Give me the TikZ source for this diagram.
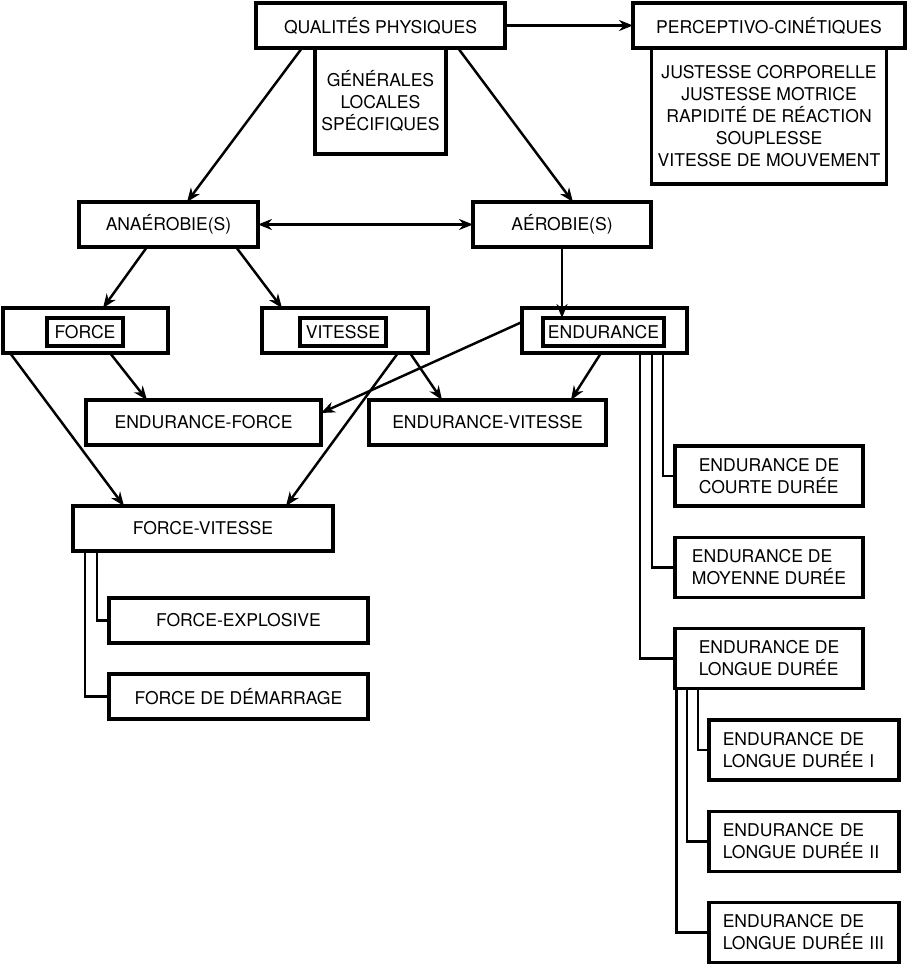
\documentclass[tikz,border=0pt]{standalone}
\usepackage{fontspec}
\setmainfont{TeX Gyre Heros}
\usetikzlibrary{arrows.meta,positioning,calc}

\begin{document}
\begin{tikzpicture}[
    x=0.02cm, y=-0.02cm,
    bx/.style={rectangle, draw=black, line width=2pt, outer sep=0pt, align=center, minimum height=0.9cm, inner sep=2pt, font=\fontsize{10}{12.5}\selectfont},
    inbx/.style={bx, minimum height=0.56cm},
    db/.style={bx, align=left, minimum width=3.76cm, minimum height=1.2cm},
    ld/.style={bx, align=left, text width=3.25cm, inner xsep=0.275cm, minimum height=1.2cm},
    arr/.style={-{Stealth[length=0.28cm, width=0.22cm, inset=0.09cm]}, line width=1.4pt},
    darr/.style={{Stealth[length=0.28cm, width=0.22cm, inset=0.09cm]}-{Stealth[length=0.28cm, width=0.22cm, inset=0.09cm]}, line width=1.4pt},
    lnk/.style={line width=1.4pt}
]
    \useasboundingbox (0,0) rectangle (908,968);

    \node [bx, minimum width=4.98cm] (qp) at (380.5,25.5) {QUALITÉS PHYSIQUES};
    \node [bx, anchor=north, minimum width=2.62cm, minimum height=2.12cm] (gen) at (qp.south) {GÉNÉRALES\\LOCALES\\SPÉCIFIQUES};
    \node [bx, minimum width=5.44cm] (perc) at (769,25.5) {PERCEPTIVO-CINÉTIQUES};
    \node [bx, anchor=north, minimum width=4.7cm, minimum height=2.72cm] (just) at (perc.south) {JUSTESSE CORPORELLE\\JUSTESSE MOTRICE\\RAPIDITÉ DE RÉACTION\\SOUPLESSE\\VITESSE DE MOUVEMENT};

    \node [bx, minimum width=3.58cm] (ana) at (168.5,224.5) {ANAÉROBIE(S)};
    \node [bx, minimum width=3.56cm] (aer) at (562,224.5) {AÉROBIE(S)};

    \node [bx, minimum width=3.3cm] (fo) at (85.5,330.5) {};
    \node [inbx, minimum width=1.52cm] (foin) at (85,332) {FORCE};
    \node [bx, minimum width=3.32cm] (vi) at (345,330.5) {};
    \node [inbx, minimum width=1.72cm] (viin) at (343,332) {VITESSE};
    \node [bx, minimum width=3.3cm] (en) at (604.5,330.5) {};
    \node [inbx, minimum width=2.42cm] (enin) at (603.5,332) {ENDURANCE};

    \node [bx, minimum width=4.7cm] (ef) at (203.5,422.5) {ENDURANCE-FORCE};
    \node [bx, minimum width=4.74cm] (ev) at (487.5,422.5) {ENDURANCE-VITESSE};

    \node [bx, minimum width=5.2cm] (fv) at (203,528.5) {FORCE-VITESSE};
    \node [bx, minimum width=5.18cm] (fe) at (238.5,620.5) {FORCE-EXPLOSIVE};
    \node [bx, minimum width=5.18cm] (fd) at (238.5,696.5) {FORCE DE DÉMARRAGE};

    \node [db] (ecd) at (769,476) {ENDURANCE DE\\COURTE DURÉE};
    \node [db] (emd) at (769,567.5) {ENDURANCE DE\\MOYENNE DURÉE};
    \node [db] (eld) at (769,658.5) {ENDURANCE DE\\LONGUE DURÉE};
    \node [ld] (eld1) at (804,750) {ENDURANCE DE\\LONGUE DURÉE I};
    \node [ld] (eld2) at (804,841.5) {ENDURANCE DE\\LONGUE DURÉE II};
    \node [ld] (eld3) at (804,932.5) {ENDURANCE DE\\LONGUE DURÉE III};

    \draw [arr] (qp) -- (perc);
    \draw [arr] ([xshift=0.92cm]qp.south west) -- ([xshift=0.37cm]ana.north);
    \draw [arr] ([xshift=-0.94cm]qp.south east) -- ([xshift=0.22cm]aer.north);
    \draw [darr] (ana) -- (aer);

    \draw [arr] ([xshift=-0.43cm]ana.south) -- ([xshift=0.35cm]fo.north);
    \draw [arr] ([xshift=1.35cm]ana.south) -- ([xshift=0.4cm]vi.north west);
    \draw [arr] (aer.south) -- (aer.south |- enin.north);

    \draw [arr] ([xshift=0.49cm]fo.south) -- ([xshift=1.22cm]ef.north west);
    \draw [arr] ([xshift=-0.36cm]vi.south east) -- ([xshift=1.46cm]ev.north west);
    \draw [arr] ([xshift=-0.07cm]en.south) -- ([xshift=-0.7cm]ev.north east);
    \draw [arr] ([yshift=-0.28cm]en.north west) -- ([yshift=0.19cm]ef.east);
    \draw [arr] ([xshift=0.14cm]fo.south west) -- ([xshift=1.02cm]fv.north west);
    \draw [arr] ([xshift=-0.6cm]vi.south east) -- ([xshift=-0.94cm]fv.north east);

    \draw [lnk] ([xshift=0.48cm]fv.south west) |- (fe.west);
    \draw [lnk] ([xshift=0.24cm]fv.south west) |- (fd.west);

    \draw [lnk] ([xshift=-0.48cm]en.south east) |- (ecd.west);
    \draw [lnk] ([xshift=-0.7cm]en.south east) |- (emd.west);
    \draw [lnk] ([xshift=-0.94cm]en.south east) |- (eld.west);

    \draw [lnk] ([xshift=0.46cm]eld.south west) |- (eld1.west);
    \draw [lnk] ([xshift=0.24cm]eld.south west) |- (eld2.west);
    \draw [lnk] ([xshift=0.03cm]eld.south west) |- (eld3.west);
\end{tikzpicture}
\end{document}
